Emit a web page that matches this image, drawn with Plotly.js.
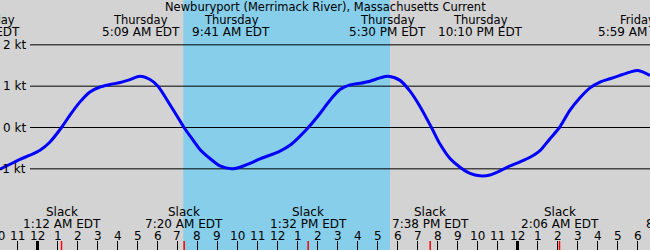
<!DOCTYPE html>
<html><head><meta charset="utf-8">
<script src="https://cdn.plot.ly/plotly-3.0.1.min.js"></script>
<style>html,body{margin:0;padding:0;background:#d3d3d3;overflow:hidden}#chart{width:650px;height:250px}</style>
</head><body><div id="chart"></div>
<script>
// ---- data (hours are measured from Thursday 00:00 EDT) ----
const chartTitle = 'Newburyport (Merrimack River), Massachusetts Current';
const currentHours = [-1.875,-1.375,-0.875,-0.375,0.125,0.625,1.2,1.625,2.125,2.625,3.125,3.625,4.125,4.625,5.125,5.625,6.025,6.625,7.125,7.325,7.725,8.125,8.625,9.125,9.7,10.125,10.625,11.125,11.625,12.125,12.625,13.125,13.54,14.125,14.625,15.125,15.625,16.125,16.625,17.125,17.525,18.125,18.625,19.125,19.7,20.125,20.625,21.125,21.625,22.125,22.625,23.125,23.625,24.125,24.625,25.125,25.625,26.1,26.625,27.125,27.625,28.125,28.625,29.125,29.625,30.025,30.625];
const currentKnots = [-1.01,-0.89,-0.77,-0.67,-0.55,-0.35,0,0.30,0.62,0.86,0.98,1.04,1.09,1.16,1.24,1.16,1.0,0.55,0.16,0,-0.27,-0.53,-0.75,-0.93,-1.0,-0.96,-0.87,-0.76,-0.67,-0.57,-0.43,-0.21,0,0.34,0.66,0.92,1.03,1.07,1.12,1.20,1.24,1.14,0.88,0.51,0,-0.40,-0.75,-0.96,-1.11,-1.17,-1.15,-1.05,-0.93,-0.83,-0.72,-0.56,-0.27,0,0.42,0.72,0.96,1.10,1.18,1.26,1.34,1.38,1.26];
const maxHours = [-2.8, 5.15, 9.683, 17.5, 22.167, 29.983];
const maxDays  = ['Wednesday','Thursday','Thursday','Thursday','Thursday','Friday'];
const maxTimes = ['9:13 PM EDT','5:09 AM EDT','9:41 AM EDT','5:30 PM EDT','10:10 PM EDT','5:59 AM EDT'];
const slackHours = [1.2, 7.333, 13.533, 19.633, 26.1, 32.4];
const slackTimes = ['1:12 AM EDT','7:20 AM EDT','1:32 PM EDT','7:38 PM EDT','2:06 AM EDT','8:24 AM EDT'];
const daylightStart = [7.29];
const daylightEnd   = [17.625];
const ktValues = [2, 1, 0, -1];
const ktLabels = ['2 kt','1 kt','0 kt','-1 kt'];
const hourValues = [-2,-1,0,1,2,3,4,5,6,7,8,9,10,11,12,13,14,15,16,17,18,19,20,21,22,23,24,25,26,27,28,29,30];
const hourLabels = ['10','11','12','1','2','3','4','5','6','7','8','9','10','11','12','1','2','3','4','5','6','7','8','9','10','11','12','1','2','3','4','5','6'];
const midnightHours = [0, 24];

// ---- layout helpers ----
const W = 650, H = 250;
const XMIN = -37.5 / 20, XMAX = (W - 37.5) / 20;
const px = h => (h - XMIN) / (XMAX - XMIN);   // hour -> paper x (allows labels running past the edges)
const py = p => 1 - p / H;                     // pixel row -> paper y
const FONT = 'DejaVu Sans';
const txt = (text, xp, yPix, size) => ({
  text, x: xp, xref: 'paper', y: py(yPix), yref: 'paper', xanchor: 'center', yanchor: 'middle',
  showarrow: false, font: {family: FONT, size, color: '#000'}
});

const shapes = [];
daylightStart.forEach((s, i) => shapes.push({
  type: 'rect', xref: 'x', yref: 'paper', x0: s, x1: daylightEnd[i], y0: 0, y1: 1,
  fillcolor: '#87ceeb', line: {width: 0}, layer: 'below'
}));
ktValues.forEach(v => shapes.push({
  type: 'line', xref: 'paper', yref: 'y', x0: 30 / W, x1: 1, y0: v, y1: v,
  line: {color: '#000', width: 1}, layer: 'below'
}));
hourValues.forEach(h => {
  const big = midnightHours.includes(h);
  shapes.push({type: 'line', xref: 'x', yref: 'paper', x0: h, x1: h, y0: 0, y1: 9 / H,
    line: {color: '#000', width: big ? 3 : 1}, layer: 'above'});
});
slackHours.forEach(h => shapes.push({type: 'line', xref: 'x', yref: 'paper', x0: h, x1: h, y0: 0, y1: 9 / H,
  line: {color: '#ff0000', width: 1.5}, layer: 'above'}));

const ann = [];
ann.push(txt(chartTitle, 0.5, 7, 11.5));
maxHours.forEach((h, i) => {
  ann.push(txt(maxDays[i], px(h), 20, 11.5));
  ann.push(txt(maxTimes[i], px(h), 32, 12));
});
slackHours.forEach((h, i) => {
  ann.push(txt('Slack', px(h), 211.5, 12));
  ann.push(txt(slackTimes[i], px(h), 223.5, 12));
});
hourValues.forEach((h, i) => ann.push(txt(hourLabels[i], px(h), 236, 12)));
ktValues.forEach((v, i) => ann.push({
  text: ktLabels[i], x: 28 / W, xref: 'paper', y: v, yref: 'y', xanchor: 'right', yanchor: 'middle',
  showarrow: false, font: {family: FONT, size: 12, color: '#000'}
}));

const zeroPix = 127.5, pxPerKt = 41.33;
const trace = {
  x: currentHours, y: currentKnots, type: 'scatter', mode: 'lines',
  line: {color: '#0000ff', width: 3, shape: 'spline', smoothing: 0.8},
  hoverinfo: 'skip'
};
const layout = {
  width: W, height: H, margin: {l: 0, r: 0, t: 0, b: 0, pad: 0},
  paper_bgcolor: '#d3d3d3', plot_bgcolor: '#d3d3d3', showlegend: false,
  xaxis: {range: [XMIN, XMAX], visible: false, fixedrange: true},
  yaxis: {range: [(zeroPix - H) / pxPerKt, zeroPix / pxPerKt], visible: false, fixedrange: true},
  shapes, annotations: ann
};
Plotly.newPlot('chart', [trace], layout, {staticPlot: true, displayModeBar: false});
</script></body></html>
